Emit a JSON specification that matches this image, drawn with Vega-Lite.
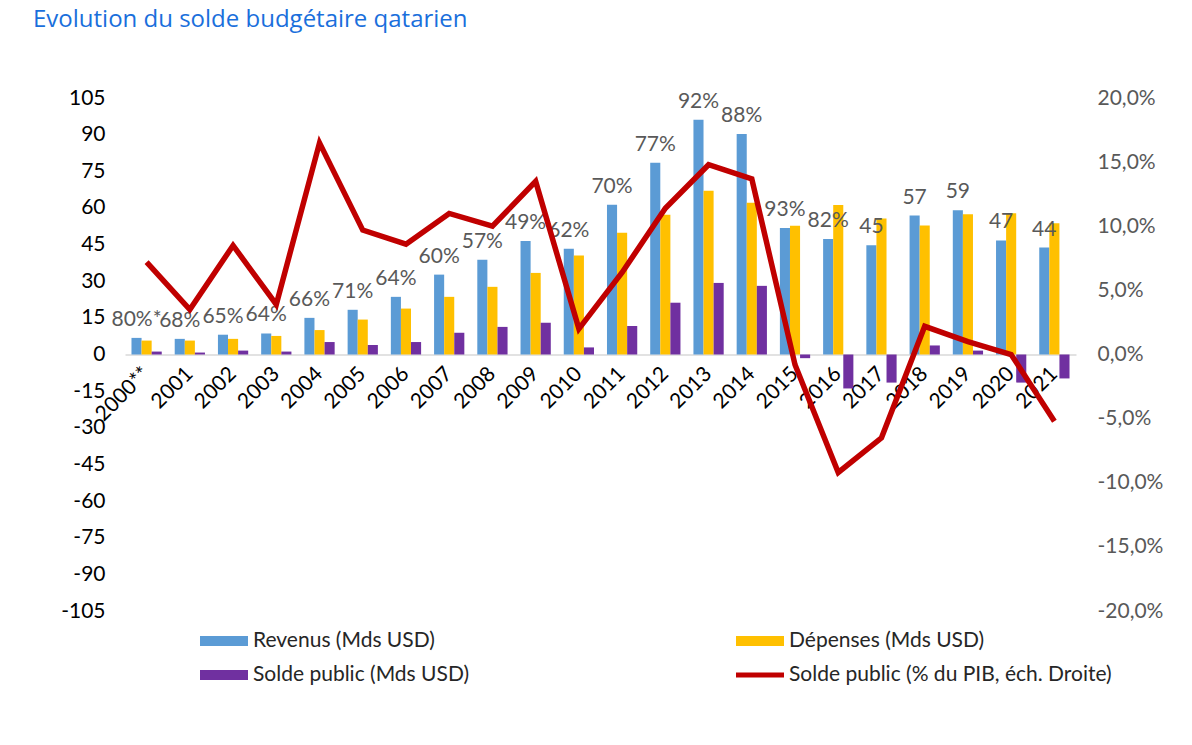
{
  "$schema": "https://vega.github.io/schema/vega-lite/v6.json",
  "width": 951,
  "height": 513,
  "autosize": "none",
  "padding": {"left": 125, "top": 98, "right": 116, "bottom": 134},
  "background": "white",
  "title": {
    "text": "Evolution du solde budgétaire qatarien",
    "anchor": "start",
    "frame": "group",
    "dx": -92,
    "offset": 55,
    "font": "Open Sans",
    "fontSize": 24,
    "fontWeight": "normal",
    "color": "#1a6fdc"
  },
  "datasets": {
    "bars": [
      {"year": "2000**", "s": "rev", "v": 6.8, "label": "80%*"},
      {"year": "2000**", "s": "dep", "v": 5.7},
      {"year": "2000**", "s": "solde", "v": 1.2},
      {"year": "2001", "s": "rev", "v": 6.4, "label": "68%"},
      {"year": "2001", "s": "dep", "v": 5.7},
      {"year": "2001", "s": "solde", "v": 0.8},
      {"year": "2002", "s": "rev", "v": 8.1, "label": "65%"},
      {"year": "2002", "s": "dep", "v": 6.4},
      {"year": "2002", "s": "solde", "v": 1.6},
      {"year": "2003", "s": "rev", "v": 8.6, "label": "64%"},
      {"year": "2003", "s": "dep", "v": 7.6},
      {"year": "2003", "s": "solde", "v": 1.2},
      {"year": "2004", "s": "rev", "v": 15.0, "label": "66%"},
      {"year": "2004", "s": "dep", "v": 10.0},
      {"year": "2004", "s": "solde", "v": 5.1},
      {"year": "2005", "s": "rev", "v": 18.3, "label": "71%"},
      {"year": "2005", "s": "dep", "v": 14.3},
      {"year": "2005", "s": "solde", "v": 3.9},
      {"year": "2006", "s": "rev", "v": 23.6, "label": "64%"},
      {"year": "2006", "s": "dep", "v": 18.8},
      {"year": "2006", "s": "solde", "v": 5.1},
      {"year": "2007", "s": "rev", "v": 32.7, "label": "60%"},
      {"year": "2007", "s": "dep", "v": 23.6},
      {"year": "2007", "s": "solde", "v": 8.9},
      {"year": "2008", "s": "rev", "v": 38.8, "label": "57%"},
      {"year": "2008", "s": "dep", "v": 27.7},
      {"year": "2008", "s": "solde", "v": 11.3},
      {"year": "2009", "s": "rev", "v": 46.5, "label": "49%"},
      {"year": "2009", "s": "dep", "v": 33.4},
      {"year": "2009", "s": "solde", "v": 13.0},
      {"year": "2010", "s": "rev", "v": 43.3, "label": "62%"},
      {"year": "2010", "s": "dep", "v": 40.5},
      {"year": "2010", "s": "solde", "v": 2.9},
      {"year": "2011", "s": "rev", "v": 61.3, "label": "70%"},
      {"year": "2011", "s": "dep", "v": 49.8},
      {"year": "2011", "s": "solde", "v": 11.7},
      {"year": "2012", "s": "rev", "v": 78.5, "label": "77%"},
      {"year": "2012", "s": "dep", "v": 57.2},
      {"year": "2012", "s": "solde", "v": 21.2},
      {"year": "2013", "s": "rev", "v": 96.1, "label": "92%"},
      {"year": "2013", "s": "dep", "v": 67.0},
      {"year": "2013", "s": "solde", "v": 29.3},
      {"year": "2014", "s": "rev", "v": 90.3, "label": "88%"},
      {"year": "2014", "s": "dep", "v": 62.1},
      {"year": "2014", "s": "solde", "v": 28.1},
      {"year": "2015", "s": "rev", "v": 51.8, "label": "93%"},
      {"year": "2015", "s": "dep", "v": 52.7},
      {"year": "2015", "s": "solde", "v": -1.5},
      {"year": "2016", "s": "rev", "v": 47.3, "label": "82%"},
      {"year": "2016", "s": "dep", "v": 61.2},
      {"year": "2016", "s": "solde", "v": -13.9},
      {"year": "2017", "s": "rev", "v": 44.7, "label": "45"},
      {"year": "2017", "s": "dep", "v": 55.7},
      {"year": "2017", "s": "solde", "v": -11.5},
      {"year": "2018", "s": "rev", "v": 56.9, "label": "57"},
      {"year": "2018", "s": "dep", "v": 52.8},
      {"year": "2018", "s": "solde", "v": 3.7},
      {"year": "2019", "s": "rev", "v": 59.0, "label": "59"},
      {"year": "2019", "s": "dep", "v": 57.4},
      {"year": "2019", "s": "solde", "v": 1.6},
      {"year": "2020", "s": "rev", "v": 46.7, "label": "47"},
      {"year": "2020", "s": "dep", "v": 57.8},
      {"year": "2020", "s": "solde", "v": -11.5},
      {"year": "2021", "s": "rev", "v": 43.8, "label": "44"},
      {"year": "2021", "s": "dep", "v": 53.7},
      {"year": "2021", "s": "solde", "v": -9.8}
    ],
    "line": [
      {"year": "2000**", "pct": 7.2},
      {"year": "2001", "pct": 3.5},
      {"year": "2002", "pct": 8.5},
      {"year": "2003", "pct": 3.9},
      {"year": "2004", "pct": 16.5},
      {"year": "2005", "pct": 9.7},
      {"year": "2006", "pct": 8.6},
      {"year": "2007", "pct": 11.0},
      {"year": "2008", "pct": 10.0},
      {"year": "2009", "pct": 13.5},
      {"year": "2010", "pct": 2.0},
      {"year": "2011", "pct": 6.4},
      {"year": "2012", "pct": 11.4},
      {"year": "2013", "pct": 14.8},
      {"year": "2014", "pct": 13.7},
      {"year": "2015", "pct": -0.8},
      {"year": "2016", "pct": -9.2},
      {"year": "2017", "pct": -6.5},
      {"year": "2018", "pct": 2.2},
      {"year": "2019", "pct": 1.0},
      {"year": "2020", "pct": 0.0},
      {"year": "2021", "pct": -5.2}
    ]
  },
  "config": {
    "view": {"stroke": null},
    "font": "Lato",
    "axis": {"grid": false, "ticks": false, "labelFont": "Lato", "labelFontSize": 21, "titleFontSize": 0}
  },
  "encoding": {
    "x": {
      "field": "year",
      "type": "nominal",
      "title": null,
      "scale": {
        "domain": ["2000**", "2001", "2002", "2003", "2004", "2005", "2006", "2007", "2008", "2009", "2010", "2011", "2012", "2013", "2014", "2015", "2016", "2017", "2018", "2019", "2020", "2021"],
        "paddingInner": 0.3,
        "paddingOuter": 0.15
      },
      "axis": {
        "orient": "bottom",
        "offset": -256.5,
        "domainColor": "#d9d9d9",
        "domainWidth": 1.5,
        "labelAngle": -45,
        "labelColor": "#000000",
        "labelPadding": 16,
        "labelBaseline": "middle",
        "labelAlign": "right"
      }
    }
  },
  "layer": [
    {
      "data": {"name": "bars"},
      "encoding": {
        "y": {
          "field": "v",
          "type": "quantitative",
          "title": null,
          "scale": {"domain": [-105, 105], "nice": false, "zero": false},
          "axis": {
            "orient": "left",
            "domain": false,
            "values": [-105, -90, -75, -60, -45, -30, -15, 0, 15, 30, 45, 60, 75, 90, 105],
            "labelExpr": "replace(datum.label, '−', '-')",
            "labelColor": "#000000",
            "labelPadding": 20
          }
        },
        "xOffset": {"field": "s", "type": "nominal", "scale": {"domain": ["rev", "dep", "solde"], "paddingInner": 0, "paddingOuter": 0}}
      },
      "layer": [
        {
          "mark": {"type": "bar"},
          "encoding": {
            "color": {
              "field": "s",
              "type": "nominal",
              "scale": {"domain": ["rev", "dep", "solde", "pib"], "range": ["#5B9BD5", "#FFC000", "#7030A0", "#C00000"]},
              "legend": {
                "orient": "none",
                "legendX": 75,
                "legendY": 519,
                "title": null,
                "columns": 2,
                "direction": "horizontal",
                "columnPadding": 266,
                "rowPadding": -15,
                "symbolType": "M-1,-0.208H1V0.208H-1Z",
                "symbolSize": 2304,
                "symbolStrokeWidth": 0,
                "labelOffset": 5,
                "labelFont": "Lato",
                "labelFontSize": 21,
                "labelColor": "#262626",
                "labelLimit": 500,
                "labelExpr": "datum.value === 'rev' ? 'Revenus (Mds USD)' : datum.value === 'dep' ? 'Dépenses (Mds USD)' : datum.value === 'solde' ? 'Solde public (Mds USD)' : 'Solde public (% du PIB, éch. Droite)'",
                "encode": {
                  "symbols": {
                    "update": {
                      "shape": {"signal": "datum.value === 'pib' ? 'M-1,-0.1H1V0.1H-1Z' : 'M-1,-0.208H1V0.208H-1Z'"},
                      "fill": {"signal": "datum.value === 'rev' ? '#5B9BD5' : datum.value === 'dep' ? '#FFC000' : datum.value === 'solde' ? '#7030A0' : '#C00000'"},
                      "strokeWidth": {"value": 0},
                      "opacity": {"value": 1}
                    }
                  }
                }
              }
            }
          }
        },
        {
          "transform": [{"filter": "datum.s === 'rev'"}],
          "mark": {"type": "text", "baseline": "bottom", "dy": -8, "fontSize": 21, "font": "Lato", "color": "#595959"},
          "encoding": {
            "text": {"field": "label", "type": "nominal"}
          }
        }
      ]
    },
    {
      "data": {"name": "line"},
      "mark": {"type": "line", "strokeWidth": 5.5, "strokeJoin": "miter"},
      "encoding": {
        "y": {
          "field": "pct",
          "type": "quantitative",
          "title": null,
          "scale": {"domain": [-20, 20], "nice": false, "zero": false},
          "axis": {
            "orient": "right",
            "domain": false,
            "values": [-20, -15, -10, -5, 0, 5, 10, 15, 20],
            "labelExpr": "replace(replace(format(datum.value, '.1f'), '.', ','), '−', '-') + '%'",
            "labelColor": "#595959",
            "labelPadding": 21
          }
        },
        "color": {"datum": "pib", "type": "nominal"}
      }
    }
  ],
  "resolve": {"scale": {"y": "independent"}}
}
